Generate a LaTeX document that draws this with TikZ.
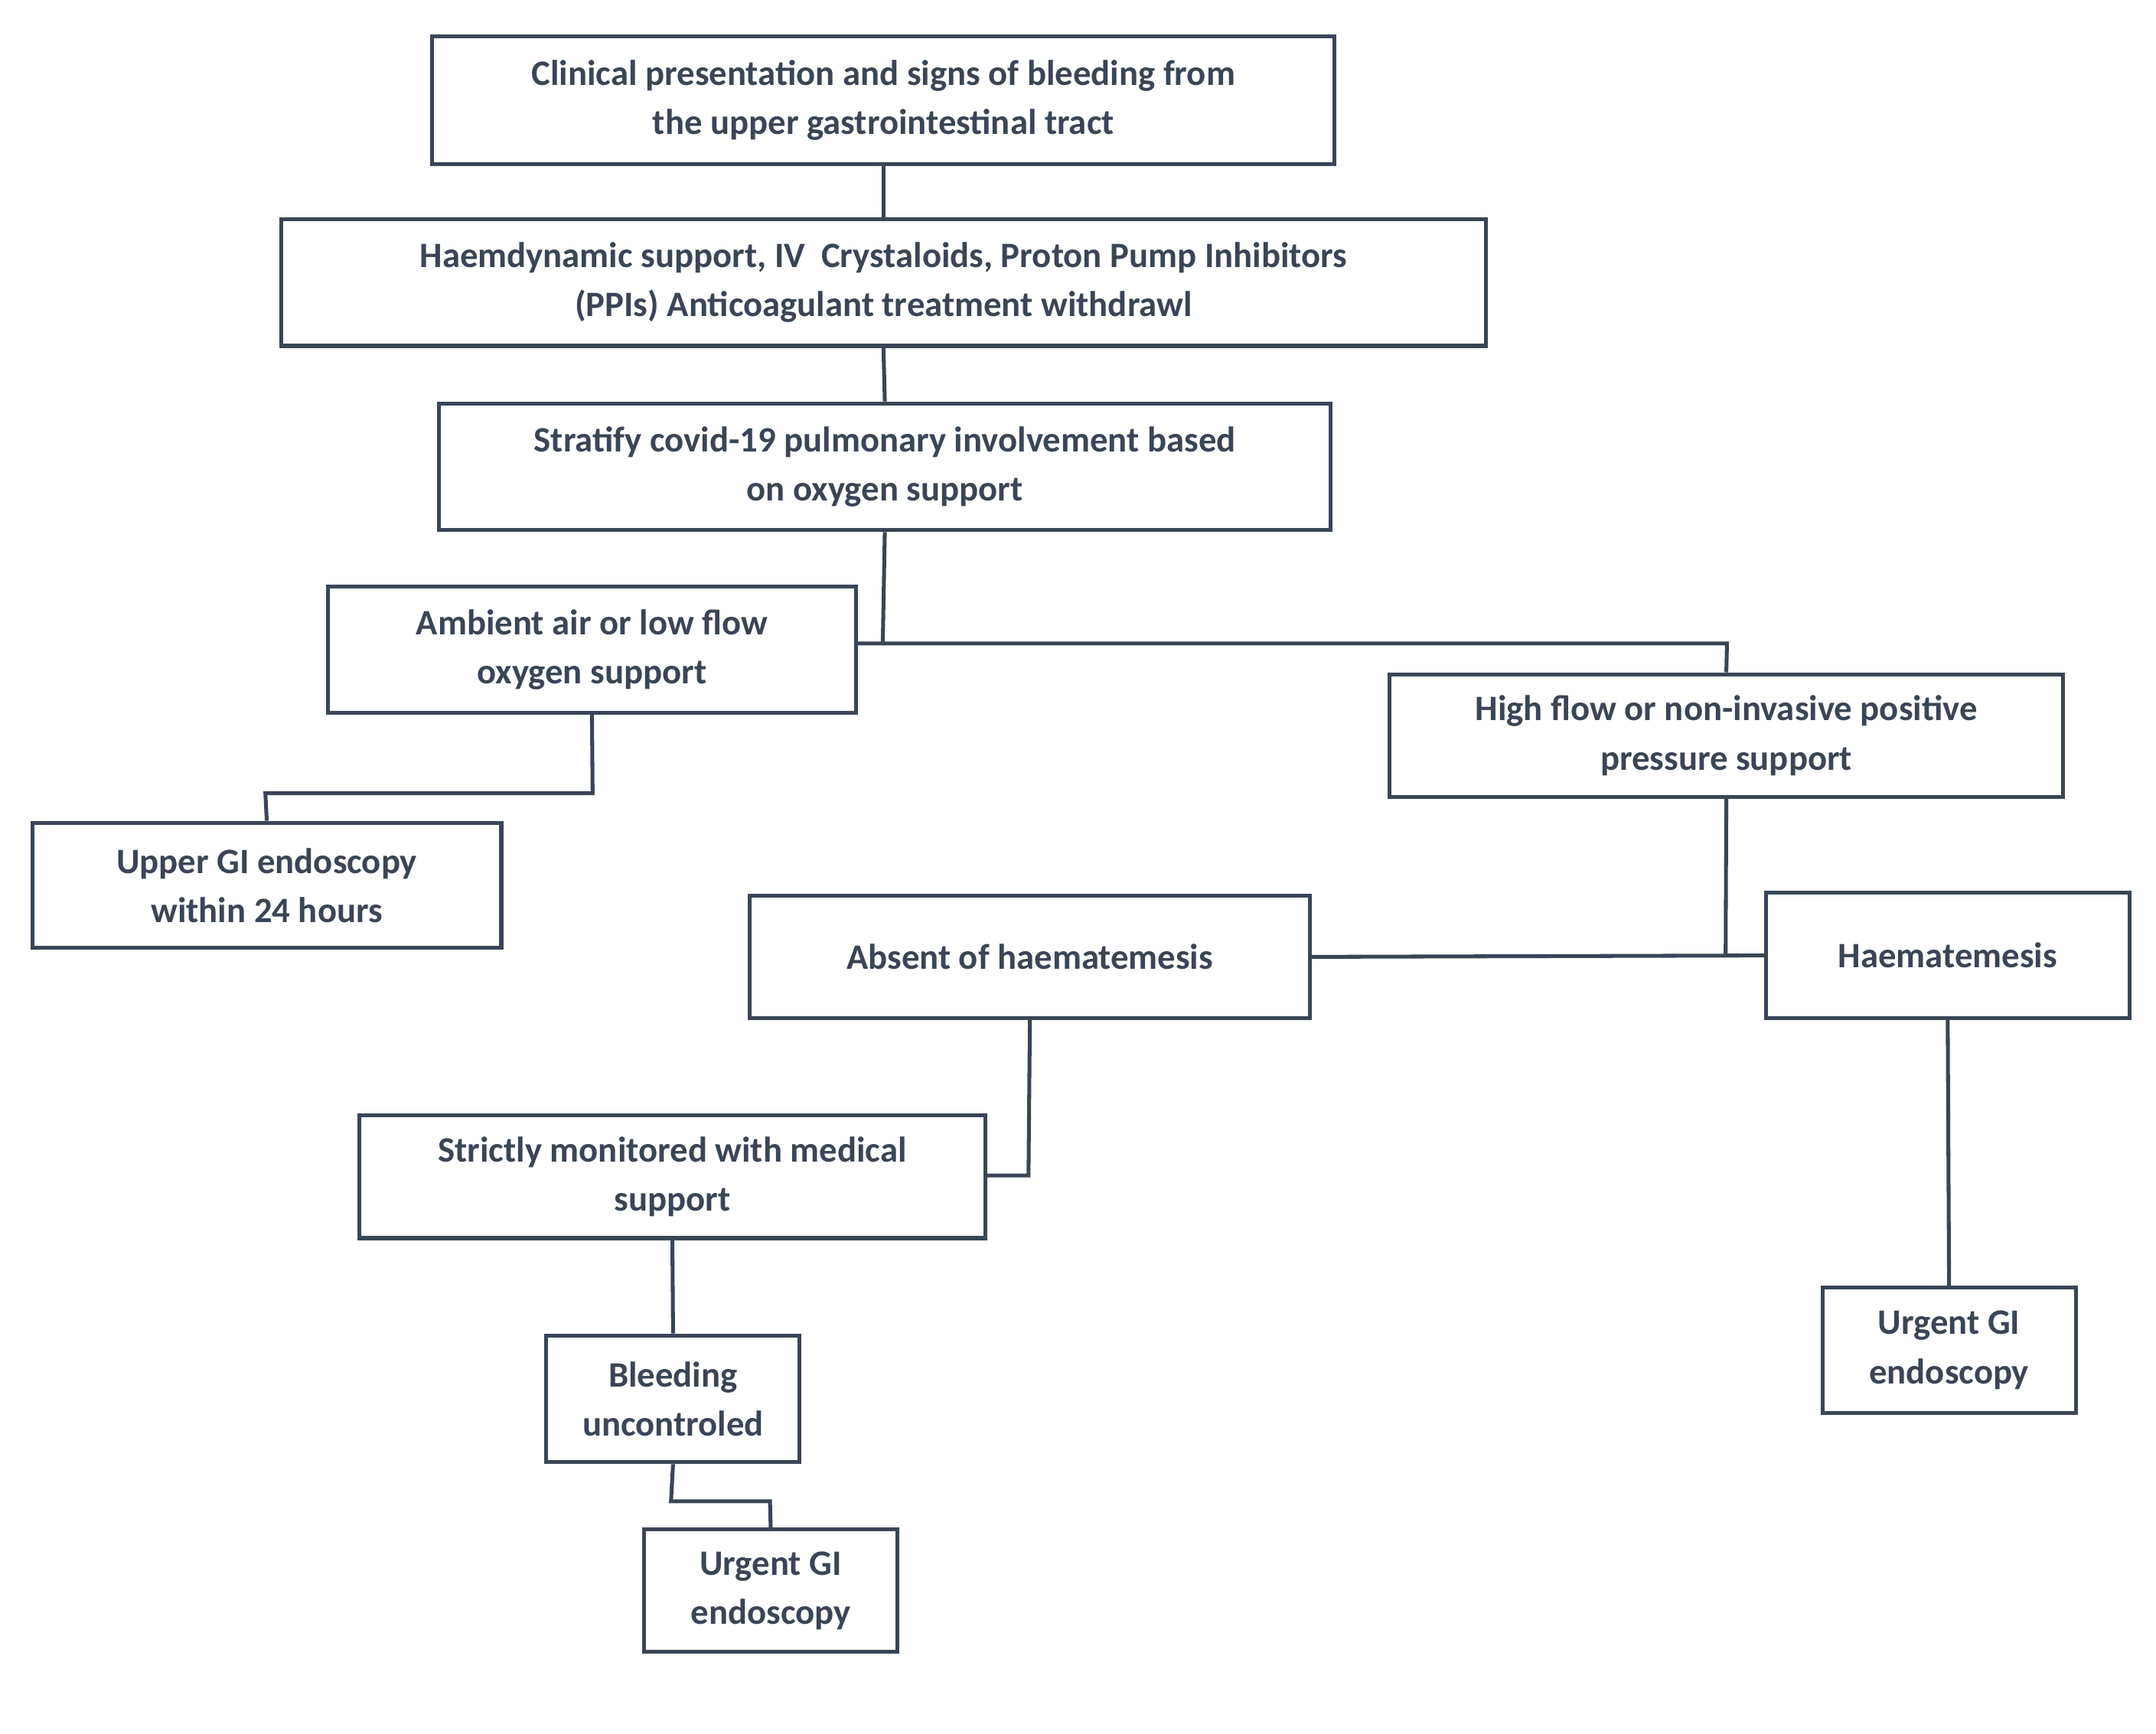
\documentclass[tikz,border=0pt]{standalone}
\usepackage{fontspec}
\setmainfont{Carlito}
\begin{document}
\definecolor{ink}{HTML}{3A4556}
\begin{tikzpicture}[x=0.05cm,y=-0.05cm,
 box/.style={draw=ink,line width=4pt,text=ink,font=\fontsize{37}{51}\selectfont\bfseries,align=center,inner sep=0pt},
 ln/.style={draw=ink,line width=4pt}]
\useasboundingbox (0,0) rectangle (1568,1261);
\fill[white] (0,0) rectangle (1568,1261);
\newcommand\bx[6]{\node[box,minimum width=#4*0.05cm-4pt,minimum height=#5*0.05cm-4pt] (#1) at (#2,#3) {#6};}
\bx{a}{642.5}{73}{659}{96}{Clinical presentation and signs of bleeding from\\the upper gastrointestinal tract}
\bx{b}{642.5}{205.5}{879}{95}{Haemdynamic support, IV\ \ Crystaloids, Proton Pump Inhibitors\\(PPIs) Anticoagulant treatment withdrawl}
\bx{c}{643.5}{339.5}{651}{95}{Stratify covid-19 pulmonary involvement based\\on oxygen support}
\bx{d}{430.5}{472.5}{387}{95}{Ambient air or low flow\\oxygen support}
\bx{e}{1255.5}{535}{493}{92}{High flow or non-invasive positive\\pressure support}
\bx{f}{194}{644}{344}{94}{Upper GI endoscopy\\within 24 hours}
\bx{g}{749}{696}{410}{92}{Absent of haematemesis}
\bx{h}{1416.5}{695}{267}{94}{Haematemesis}
\bx{i}{489}{856}{458}{92}{Strictly monitored with medical\\support}
\bx{j}{489.5}{1017.5}{187}{95}{Bleeding\\uncontroled}
\bx{k}{560.5}{1157}{187}{92}{Urgent GI\\endoscopy}
\bx{l}{1417.5}{982}{187}{94}{Urgent GI\\endoscopy}
\draw[ln] (a.south) -- (b.north);
\draw[ln] (b.south) -- (c.north);
\coordinate (cj) at (642,468);
\draw[ln] (c.south) -- (cj) -- (d.east|-cj);
\draw[ln] (cj) -- (1256,468) -- (e.north);
\draw[ln] (d.south) -- (431,577) -- (193,577) -- (f.north);
\coordinate (ej) at (1255,695);
\draw[ln] (e.south) -- (ej);
\draw[ln] (g.east) -- (h.west);
\draw[ln] (g.south) -- (748,855) -- (i.east|-748,855);
\draw[ln] (h.south) -- (l.north);
\draw[ln] (i.south) -- (j.north);
\draw[ln] (j.south) -- (488,1092) -- (560,1092) -- (k.north);
\end{tikzpicture}
\end{document}
